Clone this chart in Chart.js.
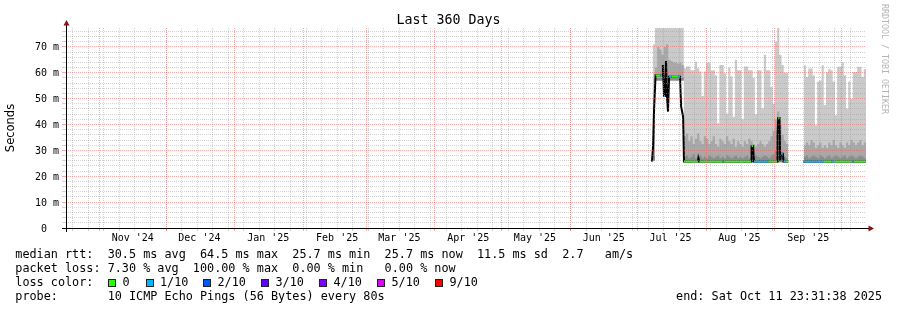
<!DOCTYPE html>
<html>
<head>
<meta charset="utf-8">
<script src="https://cdn.jsdelivr.net/npm/chart.js@4.4.1/dist/chart.umd.min.js"></script>
<style>
	html, body { margin: 0; padding: 0; background: #fff; }
	#wrap { position: relative; width: 897px; height: 310px; overflow: hidden; }
	#box { position: absolute; left: 0; top: 0; width: 897px; height: 310px; }
	.mono { position: absolute; font-family: "DejaVu Sans Mono", monospace; white-space: pre; color: #000; }
	.legend { font-size: 11.8px; line-height: 14px; }
	#title { left: 0; width: 897px; top: 12px; text-align: center; font-size: 13.3px; line-height: 16px; }
	#stamp { left: 880px; top: 4px; font-size: 8.3px; line-height: 10px; color: #b4b4b4; writing-mode: vertical-rl; }
	.lbox { position: absolute; width: 6px; height: 6px; border: 1px solid #222; }
</style>
</head>
<body>
<div id="wrap">
	<div id="box"><canvas id="rtt"></canvas></div>
	<div id="title" class="mono">Last 360 Days</div>
	<div id="stamp" class="mono">RRDTOOL / TOBI OETIKER</div>
	<div id="row1" class="mono legend" style="left:15.3px; top:247px"></div>
	<div id="row2" class="mono legend" style="left:15.3px; top:261px"></div>
	<div id="row3" class="mono legend" style="left:0; top:275px; width:897px; height:14px"></div>
	<div id="row4" class="mono legend" style="left:15.3px; top:289px"></div>
	<div id="row4end" class="mono legend" style="right:15px; top:289px"></div>
</div>
<script>
// x = days since window start (Wed Oct 16 2024 23:31:38), y = milliseconds
const midnightOffset = 0.0197;
const monthStartDays = [15, 45, 76, 107, 135, 166, 196, 227, 257, 288, 319, 349];
const monthLabels = ["Nov '24", "Dec '24", "Jan '25", "Feb '25", "Mar '25", "Apr '25", "May '25", "Jun '25", "Jul '25", "Aug '25", "Sep '25"];
const monthLabelDays = [30, 60, 91, 122, 150, 181, 211, 242, 272, 303, 334];
const firstSunday = 3;
const yMax = 77.3;

// smoke, one value per day starting at smokeFirstDay (null = no data)
const smokeFirstDay = 264;
const smokeLo = [
	26, 57, 57, 57, 57, 57, 57, 57, 57, 57, 57, 57, 57, 57,
	25.4, 25.4, 25.4, 25.4, 25.4, 25.4, 25.4, 25.4, 25.4, 25.4,
	25.4, 25.4, 25.4, 25.4, 25.4, 25.4, 25.4, 25.4, 25.4, 25.4,
	25.4, 25.4, 25.4, 25.4, 25.4, 25.4, 25.4, 25.4, 25.4, 25.4,
	25.4, 25.4, 25.4, 25.4, 25.4, 25.4, 25.4, 25.4, 25.4, 25.4,
	25.4, 25.4, 25.4, 25.4, 25.4, 25.4, 25.4, 25.4,
	null, null, null, null, null, null,
	25.4, 25.4, 25.4, 25.4, 25.4, 25.4, 25.4, 25.4, 25.4, 25.4,
	25.4, 25.4, 25.4, 25.4, 25.4, 25.4, 25.4, 25.4, 25.4, 25.4,
	25.4, 25.4, 25.4, 25.4, 25.4, 25.4, 25.4, 25.4, 25.4
];
const smokeTop = [
	71, 77.3, 77.3, 77.3, 77.3, 77.3, 77.3, 77.3, 77.3, 77.3, 77.3, 77.3, 77.3, 77.3,
	61.7, 62.4, 62.4, 61, 61, 64.3, 61.7, 60.5, 51, 60.5,
	64, 64, 61, 61, 59, 40.5, 63, 63, 59.8, 44.3,
	62, 58.6, 43, 65, 61, 61, 42, 62.4, 62.4, 61,
	61, 58, 44, 61, 61, 46.3, 67, 61, 61, 54.6,
	48, 72, 77.3, 67, 63, 60, 60, 60,
	null, null, null, null, null, null,
	62.9, 58.4, 61.6, 61.6, 59, 39.7, 56.6, 57, 62.9, 47.5,
	60.3, 61.5, 61, 56.6, 43.6, 62.3, 62.3, 64, 59, 46.2,
	56.6, 50, 60.3, 60.3, 62.3, 62.3, 58.4, 61.5, 61.5
];
const smokeMid = [
	40, 62, 70, 69, 67, 70, 71, 65, 64.5, 64, 64, 63.5, 64, 63,
	35.5, 36.5, 33.5, 35.5, 32.5, 34.5, 36.5, 33.5, 32.5, 35.5,
	34.5, 32.5, 33.5, 35.5, 32.5, 31.5, 34.5, 33.5, 32.5, 35.5,
	33.5, 32.5, 34.5, 31.5, 33.5, 32.5, 31.5, 33.5, 32.5, 34.5,
	33.5, 32.5, 31.5, 32.5, 33.5, 32.5, 31.5, 32.5, 33.5, 35.5,
	37.5, 42, 45, 40, 36, 33.5, 32.5, 32.5,
	null, null, null, null, null, null,
	32, 33, 32, 34, 33, 31, 32, 33, 31, 32,
	31, 33, 32, 34, 32, 31, 33, 32, 31, 33,
	32, 34, 33, 32, 33, 34, 32, 33, 33
];
const smokeDark = [
	28, 58, 58, 58, 58, 58, 58, 58, 58, 58, 58, 58, 58, 58,
	27.5, 28, 27, 27.5, 28.5, 27, 27.5, 28, 27, 27.5,
	27, 28, 27.5, 27, 27.5, 28, 27, 27.5, 27, 28,
	27.5, 27, 27.5, 28, 27, 27.5, 27, 27.5, 28, 27,
	27.5, 27, 28, 27.5, 27, 27.5, 28, 27.5, 27, 28,
	28.5, 30, 31, 29, 28, 27.5, 27, 27,
	null, null, null, null, null, null,
	27.5, 28, 27, 27.5, 28, 27.5, 27, 28, 27.5, 27,
	27.5, 28, 27, 27.5, 28, 27.5, 27, 27.5, 28, 27,
	27.5, 28, 27.5, 27, 27.5, 28, 27.5, 27, 27
];

// median rtt and the loss level of the segment that starts at each point
const medianDays = [263.7, 264.2, 264.6, 265.3, 267.5, 268.2, 268.6, 269.1, 269.6, 270.0,
	270.5, 270.9, 271.4, 272.5, 275.5, 276.3, 276.8, 277.7, 278.1, 284.4,
	284.6, 285.0, 295.5, 296.0, 308.3, 308.5, 309.2, 309.6, 316.0, 320.0,
	320.2, 320.5, 321.1, 321.4, 321.8, 322.6, 322.9, 324.0, 325.0, 328.0,
	331.7, 340.7, 344.6, 345.2, 353.8, 354.3, 360.0];
const medianMs = [25.7, 32, 45, 59, 59, 59, 63, 51, 51, 64.5,
	50, 45, 58.5, 58.5, 58.5, 58.5, 47, 43, 25.7, 25.7,
	27, 25.7, 25.7, 25.7, 25.7, 31.7, 31.7, 25.7, 25.7, 25.7,
	36, 42.5, 42.5, 26, 28.7, 28.7, 25.7, 25.7, 25.7, null,
	25.7, 25.7, 25.7, 25.7, 25.7, 25.7, 25.7];
const medianLoss = [0, 0, 1, 0, 1, 1, 1, 1, 0, 0,
	1, 0, 1, 0, 1, 0, 0, 0, 0, 1,
	0, 0, 1, 0, 0, 0, 0, 1, 0, 0,
	0, 0, 0, 1, 1, 0, 1, 0, 0, 0,
	1, 0, 1, 0, 1, 0, 0];

const lossLabels = ["0", "1/10", "2/10", "3/10", "4/10", "5/10", "9/10"];
const lossColors = ["#26ff00", "#00b8ff", "#0059ff", "#5e00ff", "#7e00ff", "#dd00ff", "#ff0000"];

const legendRtt = "median rtt:  30.5 ms avg  64.5 ms max  25.7 ms min  25.7 ms now  11.5 ms sd  2.7   am/s";
const legendLoss = "packet loss: 7.30 % avg  100.00 % max  0.00 % min   0.00 % now";
const legendProbe = "probe:       10 ICMP Echo Pings (56 Bytes) every 80s";
const legendEnd = "end: Sat Oct 11 23:31:38 2025";

const gridMinor = "rgba(150,150,150,0.42)";
const gridMajor = "rgba(240,90,90,0.5)";

// legend text
document.getElementById("row1").textContent = legendRtt;
document.getElementById("row2").textContent = legendLoss;
document.getElementById("row4").textContent = legendProbe;
document.getElementById("row4end").textContent = legendEnd;

const row3 = document.getElementById("row3");
const lossHead = document.createElement("span");
lossHead.style.position = "absolute";
lossHead.style.left = "15.3px";
lossHead.textContent = "loss color:";
row3.appendChild(lossHead);
const boxLefts = [108, 145.5, 203, 261, 319, 377, 435];
for (let i = 0; i < lossLabels.length; i++) {
	const box = document.createElement("span");
	box.className = "lbox";
	box.style.left = boxLefts[i] + "px";
	box.style.top = "4px";
	box.style.background = lossColors[i];
	row3.appendChild(box);
	const txt = document.createElement("span");
	txt.style.position = "absolute";
	txt.style.left = (boxLefts[i] + 14.5) + "px";
	txt.textContent = lossLabels[i];
	row3.appendChild(txt);
}

// x ticks: weekly grid, month grid, month labels
const xTicks = [];
for (let d = firstSunday; d < 360; d += 7) {
	xTicks.push({ value: d + midnightOffset, kind: "week", text: "" });
}
for (const d of monthStartDays) {
	xTicks.push({ value: d + midnightOffset, kind: "month", text: "" });
}
for (let i = 0; i < monthLabels.length; i++) {
	xTicks.push({ value: monthLabelDays[i] + midnightOffset, kind: "label", text: monthLabels[i] });
}
xTicks.sort((a, b) => a.value - b.value);

const yTicks = [];
for (let v = 0; v < yMax; v += 2) {
	yTicks.push(v);
}

function smokePoints(values) {
	return values.map((v, i) => ({ x: smokeFirstDay + i, y: v }));
}

const medianPoints = medianDays.map((d, i) => ({ x: d, y: medianMs[i] }));

function xGridColor(ctx) {
	const t = xTicks[ctx.index];
	if (!t || t.kind === "label") return "rgba(0,0,0,0)";
	return t.kind === "month" ? gridMajor : gridMinor;
}

function yGridColor(ctx) {
	const v = ctx.tick ? ctx.tick.value : 0;
	return v % 10 === 0 ? gridMajor : gridMinor;
}

const axisArrows = {
	id: "axisArrows",
	afterDraw(chart) {
		const { ctx, chartArea: a } = chart;
		ctx.save();
		ctx.strokeStyle = "#000";
		ctx.lineWidth = 1;
		ctx.beginPath();
		ctx.moveTo(a.left + 0.5, a.bottom + 4);
		ctx.lineTo(a.left + 0.5, a.top - 3);
		ctx.moveTo(a.left - 4, a.bottom + 0.5);
		ctx.lineTo(a.right + 3, a.bottom + 0.5);
		ctx.stroke();

		ctx.fillStyle = "#8b1010";
		ctx.beginPath();
		ctx.moveTo(a.left + 0.5, a.top - 8);
		ctx.lineTo(a.left - 2.5, a.top - 2.5);
		ctx.lineTo(a.left + 3.5, a.top - 2.5);
		ctx.closePath();
		ctx.fill();

		ctx.beginPath();
		ctx.moveTo(a.right + 8, a.bottom + 0.5);
		ctx.lineTo(a.right + 2.5, a.bottom - 2.5);
		ctx.lineTo(a.right + 2.5, a.bottom + 3.5);
		ctx.closePath();
		ctx.fill();
		ctx.restore();
	}
};

const smokeBase = {
	pointRadius: 0,
	borderWidth: 0,
	borderColor: "rgba(0,0,0,0)",
	stepped: true,
	spanGaps: false
};

const rttChart = new Chart(document.getElementById("rtt"), {
	type: "line",
	data: {
		datasets: [
			Object.assign({}, smokeBase, { label: "lo", data: smokePoints(smokeLo), fill: false, order: 10 }),
			Object.assign({}, smokeBase, { label: "smoke", data: smokePoints(smokeTop), fill: 0, backgroundColor: "#cacaca", order: 9 }),
			Object.assign({}, smokeBase, { label: "smoke mid", data: smokePoints(smokeMid), fill: 0, backgroundColor: "#a8a8a8", order: 8 }),
			Object.assign({}, smokeBase, { label: "smoke dark", data: smokePoints(smokeDark), fill: 0, backgroundColor: "#8c8c8c", order: 7 }),
			{
				label: "median",
				data: medianPoints,
				borderColor: "#000",
				borderWidth: 2,
				pointRadius: 0,
				fill: false,
				spanGaps: false,
				order: 2
			},
			{
				label: "loss",
				data: medianPoints,
				borderWidth: 2,
				pointRadius: 0,
				fill: false,
				spanGaps: false,
				segment: {
					borderColor: ctx => ctx.p0.parsed.y === ctx.p1.parsed.y ? lossColors[medianLoss[ctx.p0DataIndex]] : "rgba(0,0,0,0)"
				},
				order: 1
			}
		]
	},
	options: {
		responsive: true,
		maintainAspectRatio: false,
		devicePixelRatio: 1,
		animation: false,
		events: [],
		layout: { padding: { top: 28, right: 31, left: 0, bottom: 0 } },
		plugins: {
			legend: { display: false },
			title: { display: false },
			tooltip: { enabled: false }
		},
		scales: {
			x: {
				type: "linear",
				min: 0,
				max: 360,
				afterBuildTicks: scale => { scale.ticks = xTicks.map(t => ({ value: t.value })); },
				afterFit: scale => { scale.height = 82; },
				ticks: {
					autoSkip: false,
					maxRotation: 0,
					minRotation: 0,
					padding: 1,
					color: "#000",
					font: { family: "'DejaVu Sans Mono', monospace", size: 10 },
					callback: (value, index) => xTicks[index] ? xTicks[index].text : ""
				},
				grid: {
					z: 1,
					color: xGridColor,
					tickColor: xGridColor,
					tickLength: 3,
					lineWidth: 1
				},
				border: { display: false, dash: [1, 1] }
			},
			y: {
				min: 0,
				max: yMax,
				afterBuildTicks: scale => { scale.ticks = yTicks.map(v => ({ value: v })); },
				afterFit: scale => { scale.width = 66; },
				ticks: {
					autoSkip: false,
					padding: 3,
					labelOffset: 1,
					color: "#000",
					font: { family: "'DejaVu Sans Mono', monospace", size: 10 },
					callback: v => v % 10 === 0 ? (v === 0 ? "0  " : v + " m") : ""
				},
				grid: {
					z: 1,
					color: yGridColor,
					tickColor: yGridColor,
					tickLength: 4,
					lineWidth: 1
				},
				border: { display: false, dash: [1, 1] },
				title: {
					display: true,
					text: "Seconds",
					color: "#000",
					font: { family: "'DejaVu Sans', sans-serif", size: 11.5 },
					padding: { top: 4, bottom: 0 }
				}
			}
		}
	},
	plugins: [axisArrows]
});
</script>
</body>
</html>
